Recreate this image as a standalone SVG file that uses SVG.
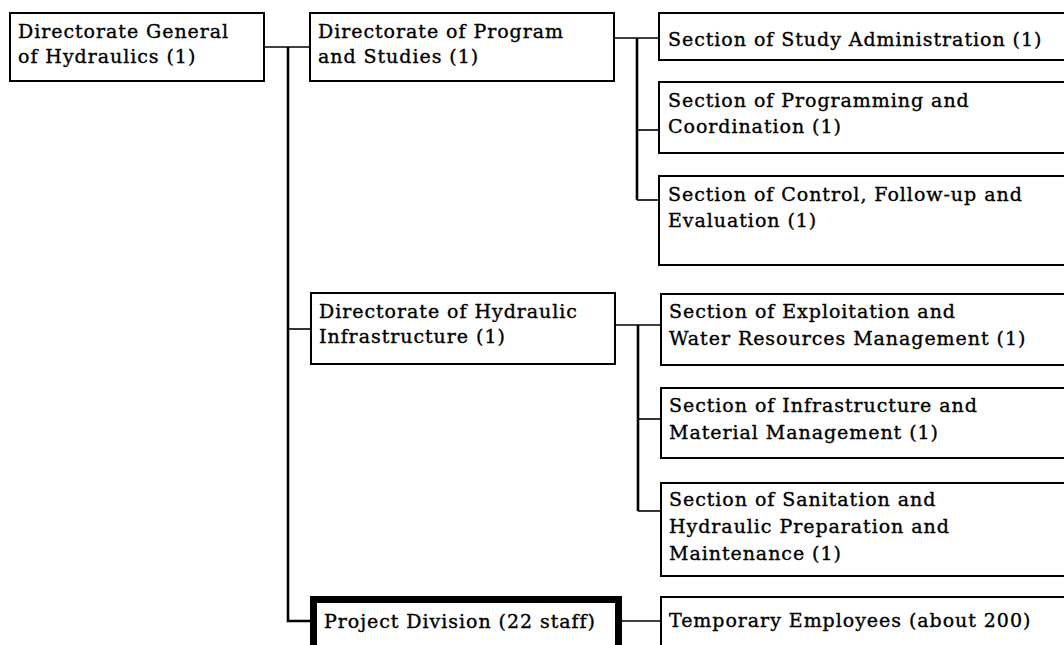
<svg xmlns="http://www.w3.org/2000/svg" width="1064" height="645" viewBox="0 0 1064 645">
<style>
.box{fill:#fff;stroke:#000;stroke-width:2}
.thick{fill:#fff;stroke:#000;stroke-width:7}
.t{font-family:"DejaVu Serif","Liberation Serif",serif;font-size:19px;letter-spacing:0.95px;fill:#000;stroke:#000;stroke-width:0.35}
.trunk{stroke:#000;stroke-width:2.6;fill:none}
.c{stroke:#000;stroke-width:1.6;fill:none}
</style>
<rect width="1064" height="645" fill="#fff"/>
<g id="connectors">
<line class="c" x1="264" y1="47" x2="310" y2="47"/>
<polyline class="trunk" points="288,47 288,621 310,621"/>
<line class="c" x1="288" y1="329" x2="311" y2="329"/>
<line class="c" x1="614" y1="38" x2="659" y2="38"/>
<line class="trunk" x1="637" y1="38" x2="637" y2="200"/>
<line class="c" x1="637" y1="130" x2="659" y2="130"/>
<line class="c" x1="637" y1="200" x2="659" y2="200"/>
<line class="c" x1="615" y1="325" x2="661" y2="325"/>
<line class="trunk" x1="638" y1="325" x2="638" y2="511"/>
<line class="c" x1="638" y1="419" x2="661" y2="419"/>
<line class="c" x1="638" y1="511" x2="661" y2="511"/>
<line class="c" x1="622" y1="621" x2="661" y2="621"/>
</g>
<g id="n-dgh">
<rect class="box" x="10" y="13" width="254" height="68"/>
<text class="t" x="18" y="38">Directorate General</text>
<text class="t" x="18" y="63">of Hydraulics (1)</text>
</g>
<g id="n-dps">
<rect class="box" x="310" y="13" width="304" height="68"/>
<text class="t" x="318" y="38">Directorate of Program</text>
<text class="t" x="318" y="63">and Studies (1)</text>
</g>
<g id="n-dhi">
<rect class="box" x="311" y="293" width="304" height="71"/>
<text class="t" x="319" y="318">Directorate of Hydraulic</text>
<text class="t" x="319" y="343">Infrastructure (1)</text>
</g>
<g id="n-pd">
<rect class="thick" x="313.5" y="599.5" width="305" height="60"/>
<text class="t" x="324" y="628">Project Division (22 staff)</text>
</g>
<g id="n-s1">
<rect class="box" x="659" y="13" width="420" height="47"/>
<text class="t" x="668" y="46">Section of Study Administration (1)</text>
</g>
<g id="n-s2">
<rect class="box" x="659" y="82" width="420" height="71"/>
<text class="t" x="668" y="107">Section of Programming and</text>
<text class="t" x="668" y="133">Coordination (1)</text>
</g>
<g id="n-s3">
<rect class="box" x="659" y="176" width="420" height="89"/>
<text class="t" x="668" y="201">Section of Control, Follow-up and</text>
<text class="t" x="668" y="227">Evaluation (1)</text>
</g>
<g id="n-s4">
<rect class="box" x="661" y="294" width="420" height="71"/>
<text class="t" x="669" y="318">Section of Exploitation and</text>
<text class="t" x="669" y="345">Water Resources Management (1)</text>
</g>
<g id="n-s5">
<rect class="box" x="661" y="388" width="420" height="70"/>
<text class="t" x="669" y="412">Section of Infrastructure and</text>
<text class="t" x="669" y="439">Material Management (1)</text>
</g>
<g id="n-s6">
<rect class="box" x="661" y="483" width="420" height="93"/>
<text class="t" x="669" y="506">Section of Sanitation and</text>
<text class="t" x="669" y="533">Hydraulic Preparation and</text>
<text class="t" x="669" y="560">Maintenance (1)</text>
</g>
<g id="n-te">
<rect class="box" x="661" y="597" width="420" height="60"/>
<text class="t" x="669" y="627">Temporary Employees (about 200)</text>
</g>
</svg>
